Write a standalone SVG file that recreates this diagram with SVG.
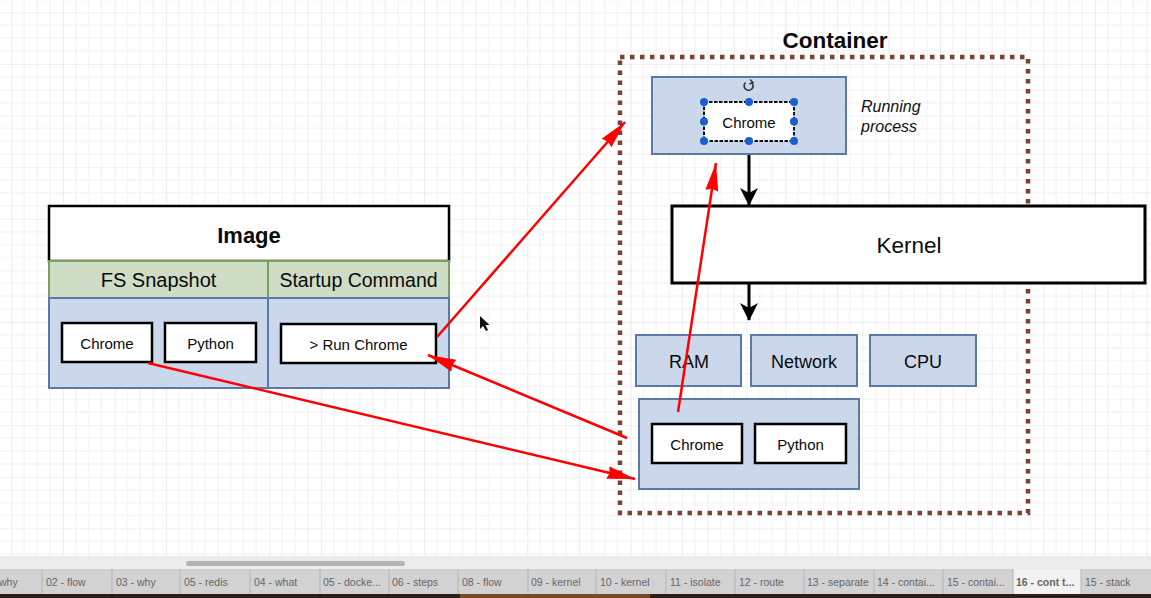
<svg xmlns="http://www.w3.org/2000/svg" width="1151" height="598" viewBox="0 0 1151 598">
<defs>
<pattern id="grid" x="11.3" y="12.4" width="51.6" height="51.6" patternUnits="userSpaceOnUse">
<path d="M12.9,0V51.6M25.8,0V51.6M38.7,0V51.6M0,12.9H51.6M0,25.8H51.6M0,38.7H51.6" stroke="#efefef" stroke-width="1" fill="none"/>
<path d="M0,0V51.6M0,0H51.6" stroke="#e2e2e2" stroke-width="1.2" fill="none"/>
</pattern>
<marker id="red" viewBox="0 0 28 14" refX="28" refY="7" markerWidth="28" markerHeight="14" markerUnits="userSpaceOnUse" orient="auto">
<path d="M0,0.5 L28,7 L0,13.5 L2,7 z" fill="#ff0000"/>
</marker>
<marker id="blk" viewBox="0 0 18 18" refX="17" refY="9" markerWidth="18" markerHeight="18" markerUnits="userSpaceOnUse" orient="auto">
<path d="M0,0 L18,9 L0,18 L5,9 z" fill="#000"/>
</marker>
<style>
.t{font-family:"Liberation Sans",Arial,sans-serif;fill:#0a0a0a;text-anchor:middle}
.blue{fill:#cbd8ec;stroke:#5b79a6;stroke-width:2}
.green{fill:#cfdcc6;stroke:#7c9e5e;stroke-width:2}
.wbox{fill:#fff;stroke:#000;stroke-width:2.5}
.red{stroke:#ff0000;stroke-width:2.5;fill:none;marker-end:url(#red)}
.black{stroke:#000;stroke-width:3;fill:none;marker-end:url(#blk)}
.h{fill:#1a5fd0}
.tab{font-family:"Liberation Sans",Arial,sans-serif;font-size:10.5px;fill:#666}
.sep{stroke:#b4b4b4;stroke-width:1}
</style>
</defs>
<rect width="1151" height="598" fill="#ffffff"/>
<rect width="1151" height="556" fill="url(#grid)"/>

<g id="container">
<rect x="620" y="57" width="408" height="456" fill="none" stroke="#7d4332" stroke-width="4.5" stroke-dasharray="4.5 5.5"/>
<text class="t" x="835" y="48" font-size="22.5" font-weight="bold">Container</text>
</g>

<g id="running-process">
<rect class="blue" x="652" y="77" width="194" height="77"/>
<path d="M745.5,82.5 A4.5,4.5 0 1 0 751.5,82.3" fill="none" stroke="#333" stroke-width="1.6"/>
<path d="M750,79.5 L753,82.5 L749.5,84" fill="none" stroke="#333" stroke-width="1.4"/>
<rect x="704" y="102" width="90" height="39" fill="#fff" stroke="#111" stroke-width="2" stroke-dasharray="3.5 1.5"/>
<text class="t" x="749" y="128" font-size="15">Chrome</text>
<circle class="h" cx="704" cy="102" r="4"/><circle class="h" cx="749" cy="102" r="4"/><circle class="h" cx="794" cy="102" r="4"/>
<circle class="h" cx="704" cy="121.5" r="4"/><circle class="h" cx="794" cy="121.5" r="4"/>
<circle class="h" cx="704" cy="141" r="4"/><circle class="h" cx="749" cy="141" r="4"/><circle class="h" cx="794" cy="141" r="4"/>
</g>

<g id="running-label">
<text x="861" y="112" font-family="Liberation Sans,Arial,sans-serif" font-size="16" font-style="italic" fill="#111">Running</text>
<text x="861" y="132" font-family="Liberation Sans,Arial,sans-serif" font-size="16" font-style="italic" fill="#111">process</text>
</g>

<g id="kernel">
<rect x="672" y="206" width="473" height="77" fill="#fff" stroke="#000" stroke-width="3"/>
<text class="t" x="909" y="253" font-size="22.5">Kernel</text>
</g>

<g id="ram"><rect class="blue" x="636" y="335" width="105" height="51"/><text class="t" x="689" y="368" font-size="18">RAM</text></g>
<g id="network"><rect class="blue" x="751" y="335" width="106" height="51"/><text class="t" x="804" y="368" font-size="18">Network</text></g>
<g id="cpu"><rect class="blue" x="870" y="335" width="106" height="51"/><text class="t" x="923" y="368" font-size="18">CPU</text></g>

<g id="fs-container">
<rect class="blue" x="639" y="399" width="220" height="90"/>
<rect class="wbox" x="652" y="424" width="90" height="39"/>
<text class="t" x="697" y="450" font-size="15">Chrome</text>
<rect class="wbox" x="755" y="424" width="91" height="39"/>
<text class="t" x="800.5" y="450" font-size="15">Python</text>
</g>

<g id="image">
<rect x="49" y="206" width="400" height="55" fill="#fff" stroke="#000" stroke-width="2.5"/>
<text class="t" x="249" y="243" font-size="22" font-weight="bold">Image</text>
<rect class="green" x="49" y="261" width="219" height="37"/>
<rect class="green" x="268" y="261" width="181" height="37"/>
<text class="t" x="158.5" y="287" font-size="20">FS Snapshot</text>
<text class="t" x="358.5" y="287" font-size="19.5">Startup Command</text>
<rect class="blue" x="49" y="298" width="219" height="90"/>
<rect class="blue" x="268" y="298" width="181" height="90"/>
<rect class="wbox" x="62" y="323" width="90" height="39"/>
<text class="t" x="107" y="349" font-size="15">Chrome</text>
<rect class="wbox" x="165" y="323" width="91" height="39"/>
<text class="t" x="210.5" y="349" font-size="15">Python</text>
<rect class="wbox" x="281" y="324" width="155" height="39"/>
<text class="t" x="358.5" y="350" font-size="15">&gt; Run Chrome</text>
</g>

<g id="connectors">
<line class="black" x1="749" y1="155" x2="749" y2="205"/>
<line class="black" x1="749" y1="284" x2="749" y2="320"/>
<line class="red" x1="437" y1="337" x2="625" y2="122"/>
<line class="red" x1="678" y1="412" x2="716" y2="163"/>
<line class="red" x1="627" y1="438" x2="428" y2="355"/>
<line class="red" x1="148" y1="363" x2="635" y2="479"/>
</g>

<path d="M480,316 L480,329 L483,326 L486,331 L488,330 L485.5,325 L489.5,325 z" fill="#111"/>

<g id="tabbar">
<rect x="0" y="556" width="1151" height="13" fill="#ececec"/>
<rect x="186" y="561" width="219" height="5" rx="2.5" fill="#b3b3b3"/>
<rect x="0" y="569" width="1151" height="25" fill="#d2d2d2"/>
<rect x="1013" y="569" width="68" height="25" fill="#f2f2f2"/>
<rect x="0" y="594" width="1151" height="4" fill="#2e1f14"/>
<rect x="460" y="594" width="190" height="4" fill="#7a4a22"/>
<path class="sep" d="M42,569V594M112,569V594M180,569V594M250,569V594M320,569V594M389,569V594M458,569V594M528,569V594M596,569V594M666,569V594M735,569V594M804,569V594M874,569V594M943,569V594M1013,569V594M1081,569V594"/>
<text class="tab" x="-1" y="586">why</text>
<text class="tab" x="46" y="586">02 - flow</text>
<text class="tab" x="116" y="586">03 - why</text>
<text class="tab" x="184" y="586">05 - redis</text>
<text class="tab" x="254" y="586">04 - what</text>
<text class="tab" x="323" y="586">05 - docke...</text>
<text class="tab" x="392" y="586">06 - steps</text>
<text class="tab" x="462" y="586">08 - flow</text>
<text class="tab" x="531" y="586">09 - kernel</text>
<text class="tab" x="600" y="586">10 - kernel</text>
<text class="tab" x="670" y="586">11 - isolate</text>
<text class="tab" x="739" y="586">12 - route</text>
<text class="tab" x="807" y="586">13 - separate</text>
<text class="tab" x="877" y="586">14 - contai...</text>
<text class="tab" x="947" y="586">15 - contai...</text>
<text class="tab" x="1016" y="586" font-weight="bold" fill="#222">16 - cont t...</text>
<text class="tab" x="1085" y="586">15 - stack</text>
</g>
</svg>
